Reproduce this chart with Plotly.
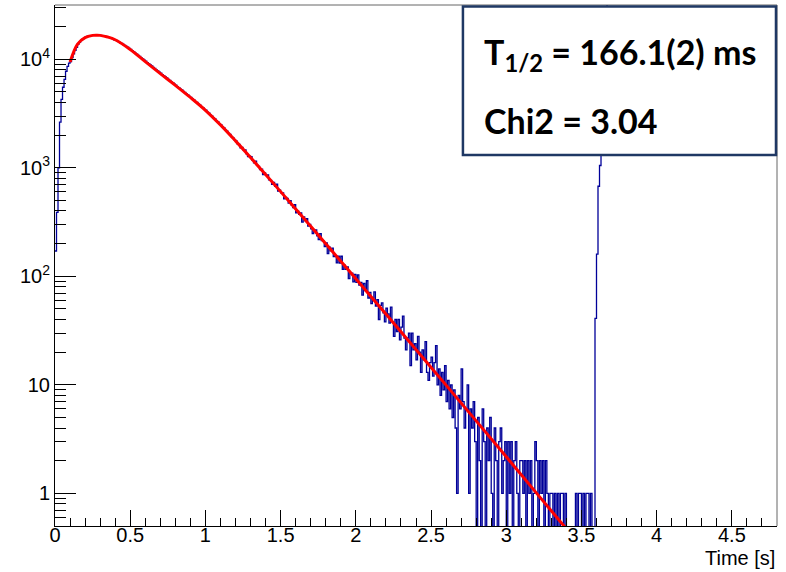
import plotly.graph_objects as go

# ---------------- data ----------------
bin_width = 0.01  # s
t_start = 0.0

# counts per 10 ms bin
counts_rise = [171, 388, 1000, 2630, 4270, 5520, 6530, 7750, 8600, 9200]  # 0.00-0.09
counts_peak = [  # 0.10-1.20
    9520, 10380, 11190, 12110, 12900, 13760, 14350, 14960, 15340, 15770,
    15960, 16210, 16300, 16470, 16520, 16660, 16640, 16700, 16650, 16610,
    16580, 16450, 16390, 16220, 16130, 15920, 15800, 15560, 15410, 15130,
    14990, 14690, 14510, 14190, 13990, 13680, 13450, 13120, 12900, 12580,
    12350, 11990, 11740, 11400, 11160, 10830, 10610, 10300, 10090, 9790,
    9590, 9310, 9120, 8850, 8670, 8410, 8240, 7990, 7830, 7600,
    7450, 7220, 7080, 6860, 6730, 6520, 6400, 6200, 6080, 5890,
    5780, 5600, 5480, 5310, 5210, 5050, 4940, 4790, 4700, 4540,
    4450, 4310, 4220, 4070, 4000, 3860, 3785, 3650, 3580, 3455,
    3395, 3260, 3190, 3060, 2998, 2875, 2815, 2700, 2645, 2535,
    2485, 2375, 2325, 2220, 2170, 2075, 2030, 1935, 1890, 1810,
    1765,
]
counts_decay = [  # 1.21-2.00
    1660, 1644, 1528, 1542, 1463, 1458, 1347, 1267, 1281, 1263,
    1172, 1111, 1150, 1053, 1030, 961, 972, 866, 899, 852,
    859, 774, 767, 703, 734, 673, 705, 611, 623, 588,
    588, 517, 533, 522, 472, 497, 452, 429, 457, 385,
    399, 372, 384, 315, 352, 326, 339, 290, 300, 274,
    247, 266, 267, 236, 218, 247, 213, 211, 188, 203,
    162, 186, 172, 182, 152, 155, 133, 153, 132, 153,
    116, 127, 116, 122, 95, 107, 107, 89, 104, 88,
]
counts_mid = [  # 2.01-2.50
    103, 83, 88, 67, 86, 74, 91, 63, 71, 56,
    63, 72, 53, 61, 40, 54, 57, 46, 38, 51,
    45, 37, 52, 38, 28, 40, 31, 40, 26, 34,
    43, 27, 21, 27, 30, 15, 30, 21, 24, 17,
    28, 20, 13, 21, 17, 25, 13, 11, 16, 18,
]
counts_tail = [  # 2.51-3.68
    12, 16, 23, 10, 14, 8, 13, 9, 15, 7,
    11, 6, 10, 5, 9, 4, 1, 8, 6, 14,
    7, 4, 6, 10, 1, 6, 4, 7, 3, 0,
    5, 2, 0, 6, 3, 0, 4, 2, 5, 1,
    0, 4, 2, 0, 3, 4, 1, 2, 3, 0,
    3, 1, 3, 0, 2, 3, 1, 0, 2, 2,
    1, 2, 0, 2, 1, 2, 0, 1, 3, 2,
    0, 2, 1, 2, 0, 2, 1, 0, 1, 1,
    0, 1, 0, 1, 0, 1, 1, 0, 1, 0,
    0, 0, 0, 0, 0, 1, 0, 1, 1, 0,
    1, 0, 1, 1, 0, 1, 0, 0, 41, 160,
    676, 1050, 2200, 5000, 12000, 30000, 60000, 90000,
]

# fitted curve, sampled (s, counts)
fit_t = [0.10, 0.15, 0.20, 0.25, 0.28, 0.30, 0.35, 0.40, 0.50, 0.60, 0.70, 0.80,
         0.90, 1.00, 1.10, 1.20, 1.30, 1.40, 1.50, 1.60, 1.70, 1.80, 1.90, 2.00,
         2.20, 2.40, 2.60, 2.80, 3.00, 3.20, 3.40]
fit_y = [9441, 13804, 15849, 16596, 16672, 16596, 16032, 15136, 12303, 9506, 7379, 5754,
         4446, 3388, 2483, 1770, 1245, 867, 603, 418, 289, 199.5, 137.7, 94.8,
         44.9, 21.1, 9.93, 4.65, 2.17, 1.01, 0.470]

y_tickvals = [1, 10, 100, 1000, 10000]
y_ticktext = ["1", "10", "10<sup>2</sup>", "10<sup>3</sup>", "10<sup>4</sup>"]

label_line1 = "<b>T<sub>1/2</sub> = 166.1(2) ms</b>"
label_line2 = "<b>Chi2 = 3.04</b>"
x_title = "Time [s]"

# ---------------- figure ----------------
counts = counts_rise + counts_peak + counts_decay + counts_mid + counts_tail
edges = [t_start + i * bin_width for i in range(len(counts) + 1)]
# empty bins drop below the log axis
y_hist = [c if c > 0 else 0.05 for c in counts]
y_hist = y_hist + [y_hist[-1]]

minor_vals = []
for dec in [0.1, 1, 10, 100, 1000, 10000]:
    for m in range(2, 10):
        minor_vals.append(m * dec)

fig = go.Figure()
fig.add_trace(go.Scatter(x=edges, y=y_hist, mode="lines", line_shape="hv",
                         line=dict(color="#000099", width=1.3), hoverinfo="skip"))
fig.add_trace(go.Scatter(x=fit_t, y=fit_y, mode="lines", line_shape="spline",
                         line=dict(color="#ff0000", width=3), hoverinfo="skip"))

font_axis = dict(family="Liberation Sans, Arial, sans-serif", size=20, color="black")

fig.update_layout(
    width=786, height=572,
    margin=dict(l=55, r=9, t=5, b=46),
    paper_bgcolor="white", plot_bgcolor="white",
    showlegend=False,
    xaxis=dict(range=[0, 4.8], tick0=0, dtick=0.5, ticks="inside", ticklen=16,
               tickcolor="black", tickwidth=1, showgrid=False, zeroline=False,
               showline=True, linecolor="black", linewidth=1, mirror=False,
               tickfont=font_axis, ticklabelstandoff=-9,
               minor=dict(dtick=0.1, tick0=0, ticks="inside", ticklen=8,
                          tickcolor="black", showgrid=False)),
    yaxis=dict(type="log", range=[-0.30103, 4.5], tickmode="array",
               tickvals=y_tickvals, ticktext=y_ticktext, ticks="inside",
               ticklen=21, tickcolor="black", tickwidth=1, showgrid=False,
               zeroline=False, showline=True, linecolor="black", linewidth=1,
               mirror=False, tickfont=font_axis,
               minor=dict(tickmode="array", tickvals=minor_vals, ticks="inside",
                          ticklen=11, tickcolor="black", showgrid=False)),
)

# frame top / right
fig.add_shape(type="line", xref="paper", yref="paper", x0=0, x1=1, y0=1, y1=1,
              line=dict(color="#666666", width=1), layer="above")
fig.add_shape(type="line", xref="paper", yref="paper", x0=1, x1=1, y0=0, y1=1,
              line=dict(color="#666666", width=1), layer="above")

# text box
fig.add_shape(type="rect", xref="paper", yref="paper",
              x0=0.565, x1=0.9986, y0=0.712, y1=0.997,
              line=dict(color="#1f3864", width=2.5), fillcolor="white", layer="above")
box_font = dict(family="Lato, Calibri, sans-serif", size=34, color="black")
fig.add_annotation(text=label_line1, xref="paper", yref="paper", x=0.591, y=0.906,
                   xanchor="left", yanchor="middle", showarrow=False, font=box_font)
fig.add_annotation(text=label_line2, xref="paper", yref="paper", x=0.591, y=0.779,
                   xanchor="left", yanchor="middle", showarrow=False, font=box_font)

fig.add_annotation(text=x_title, xref="paper", yref="paper", x=1.0, y=-0.062,
                   xanchor="right", yanchor="middle", showarrow=False, font=font_axis)

fig.write_html("out.html")
